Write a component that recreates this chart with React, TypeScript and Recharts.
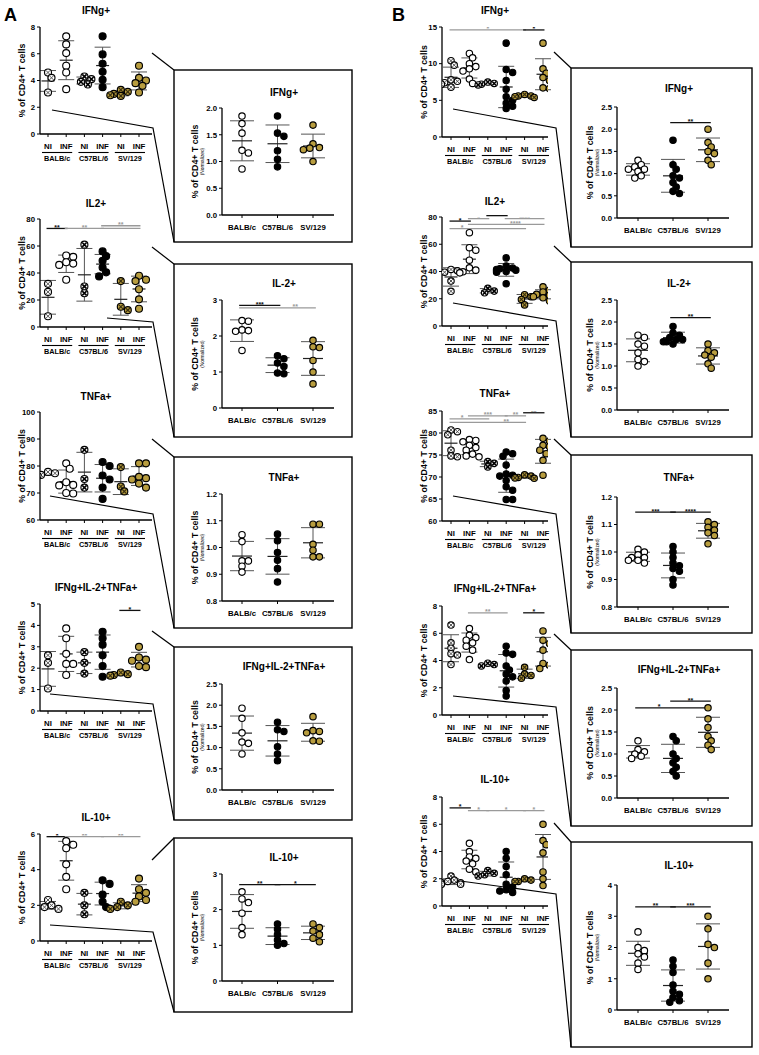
import React from 'react';
import { ScatterChart, Scatter, XAxis, YAxis, ErrorBar, ReferenceLine } from 'recharts';

// ---------- labels ----------
const GROUPS = ['NI', 'INF', 'NI', 'INF', 'NI', 'INF'];
const STRAINS = ['BALB/c', 'C57BL/6', 'SV/129'];
const SMALL_KINDS = ['niB', 'open', 'niC', 'black', 'niS', 'gold'];
const BOX_KINDS = ['open', 'black', 'gold'];

// ---------- A: raw % of CD4+ T cells ----------
const A_IFNG = [[4.6, 4.2, 3.1], [7.3, 6.7, 6.05, 5.1, 4.6, 3.35], [4.3, 4.1, 3.9, 3.7], [7.3, 5.95, 5.25, 4.65, 4.05, 3.5], [3.3, 3.15, 3.0, 2.9, 2.85], [5.1, 4.2, 4.0, 3.8, 3.6, 3.1]];
const A_IL2 = [[32, 26, 8], [53, 52, 48, 47, 46, 35], [61, 30, 25], [56, 52.5, 49, 44, 40.5, 37.5], [34, 15, 12.5], [38, 35, 34, 28, 20.5, 13.5]];
const A_TNF = [[77.8, 77.3, 76.7, 76.5], [81, 79, 74, 73, 72.8, 70, 69.8], [86, 75.2, 72], [81.5, 80, 76.5, 75, 72, 67.8], [79.6, 72.4, 70.6], [81, 81, 76, 75.5, 75, 73.5, 72]];
const A_TRIPLE = [[2.6, 2.25, 1.05], [3.86, 3.4, 2.67, 2.2, 2.2, 1.68], [2.75, 2.25, 1.75], [3.7, 3.4, 3.1, 2.6, 2.1, 1.6], [1.8, 1.72, 1.68, 1.65], [3.0, 2.5, 2.4, 2.35, 2.1, 2.05]];
const A_IL10 = [[2.3, 2.0, 1.9, 1.8], [5.6, 5.4, 5.2, 4.3, 3.6, 2.9], [2.7, 2.0, 1.5], [3.4, 3.2, 2.6, 2.2, 1.9], [2.2, 2.0, 1.9, 1.8], [3.5, 2.9, 2.7, 2.5, 2.3, 2.2]];

// ---------- A: normalized ----------
const AN_IFNG = [[1.85, 1.71, 1.53, 1.21, 1.16, 0.86], [1.85, 1.53, 1.47, 1.2, 1.04, 0.9], [1.68, 1.33, 1.26, 1.22, 1.25, 1.0]];
const AN_IL2 = [[2.43, 2.41, 2.17, 2.15, 2.13, 1.6], [1.45, 1.37, 1.25, 1.15, 0.97, 0.95], [1.88, 1.7, 1.68, 1.32, 1.0, 0.67]];
const AN_TNF = [[1.048, 1.022, 0.95, 0.95, 0.93, 0.908], [1.05, 1.025, 0.981, 0.952, 0.921, 0.871], [1.087, 1.087, 1.012, 0.99, 0.965, 0.965]];
const AN_TRIPLE = [[1.93, 1.69, 1.35, 1.13, 1.1, 0.85], [1.6, 1.42, 1.38, 1.02, 0.85, 0.69], [1.73, 1.4, 1.38, 1.35, 1.16, 1.15]];
const AN_IL10 = [[2.5, 2.3, 2.2, 1.9, 1.5, 1.3], [1.6, 1.45, 1.3, 1.15, 1.05, 1.0], [1.6, 1.5, 1.4, 1.3, 1.2, 1.1]];

// ---------- B: raw ----------
const B_IFNG = [[10.4, 9.8, 7.8, 7.6, 7.4, 7.2, 6.8], [11.4, 10.8, 10.0, 9.6, 9.3, 9.0, 7.9, 7.3], [7.5, 7.3, 7.2, 7.1], [12.8, 9.2, 8.8, 7.7, 6.5, 5.5, 5.0, 4.6, 4.2, 3.9], [5.8, 5.6, 5.6, 5.5, 5.4], [12.8, 9.3, 8.7, 8.1, 7.7, 6.7, 6.6]];
const B_IL2 = [[41.5, 40.5, 39.5, 33, 25.5], [68.5, 57.5, 55.6, 48.3, 42.7, 41, 39.8, 39], [27.6, 25.6, 24.4], [50, 44, 42.5, 42, 41.5, 41, 40.5, 40, 39.5, 31], [23, 21.5, 19.5, 15.5], [28.8, 26.3, 25, 23.2, 22.5, 21.5, 20.7, 18.3]];
const B_TNF = [[80.7, 80.3, 79.6, 76.1, 74.8, 74.6], [78.5, 78.3, 78, 77.2, 76.7, 76.1, 75.2, 74.8, 74.6], [73.5, 73.1, 72.3], [75.7, 75.3, 74.7, 72.7, 70.7, 70.4, 70.2, 69.2, 67.8, 67.0, 64.9, 64.9], [70.5, 70.2, 69.9, 69.8, 69.7], [78.8, 78.2, 77.2, 76.9, 76.1, 75.3, 73.8, 70.4]];
const B_TRIPLE = [[6.6, 5.3, 4.9, 4.5, 4.4, 3.7], [6.34, 5.85, 5.68, 5.49, 5.3, 5.05, 4.76, 4.07], [3.8, 3.7, 3.6], [5.05, 4.55, 4.45, 3.6, 3.3, 3.0, 2.8, 2.5, 1.8, 1.4], [3.5, 3.0, 2.9, 2.7], [6.17, 5.49, 5.24, 4.76, 3.78, 3.66, 3.41]];
const B_IL10 = [[2.2, 1.9, 1.8, 1.7, 1.7, 1.6, 1.6], [4.6, 4.0, 3.6, 3.5, 3.3, 3.1, 2.7, 2.5], [2.6, 2.4, 2.3, 2.2], [4.0, 3.5, 2.9, 2.3, 1.6, 1.4, 1.2, 1.1, 1.0], [2.0, 1.9, 1.8, 1.8], [6.0, 4.8, 4.5, 3.9, 2.5, 2.0, 1.5]];

// ---------- B: normalized ----------
const BN_IFNG = [[1.3, 1.2, 1.15, 1.1, 1.1, 1.05, 0.95, 0.9], [1.75, 1.2, 1.1, 0.95, 0.9, 0.8, 0.7, 0.6, 0.55], [2.0, 1.7, 1.6, 1.5, 1.45, 1.3, 1.2]];
const BN_IL2 = [[1.7, 1.65, 1.5, 1.45, 1.3, 1.15, 1.1, 1.0], [1.9, 1.75, 1.7, 1.65, 1.6, 1.6, 1.55, 1.55, 1.5], [1.5, 1.35, 1.3, 1.25, 1.2, 1.05, 0.95]];
const BN_TNF = [[1.01, 1.0, 0.99, 0.98, 0.98, 0.97, 0.97, 0.96], [1.02, 1.0, 0.98, 0.96, 0.95, 0.94, 0.93, 0.9, 0.88], [1.11, 1.1, 1.09, 1.08, 1.07, 1.06, 1.03]];
const BN_TRIPLE = [[1.3, 1.1, 1.05, 1.0, 0.95, 0.9], [1.4, 1.3, 1.0, 0.9, 0.8, 0.7, 0.6, 0.5], [2.05, 1.8, 1.6, 1.4, 1.3, 1.2, 1.1]];
const BN_IL10 = [[2.5, 2.0, 1.9, 1.8, 1.7, 1.5, 1.3], [1.6, 1.4, 1.2, 0.8, 0.6, 0.5, 0.4, 0.3, 0.25], [3.0, 2.6, 2.1, 2.0, 1.5, 1.0]];

// ---------- significance bars: [from, to, y, label, dark(1) / grey(0), optional label x] ----------
type Sig = [number, number, number, string, number, number?];
const A_IL2_SIG: Sig[] = [[1, 2, 73, '**', 1], [2, 4, 73, '**', 0], [4, 6, 73, '', 0], [4, 6, 75, '**', 0, 5]];
const A_TRIPLE_SIG: Sig[] = [[5, 6, 4.7, '*', 1]];
const A_IL10_SIG: Sig[] = [[1, 2, 5.85, '*', 1], [2, 4, 5.85, '**', 0], [4, 6, 5.85, '**', 0]];
const AN_IL2_SIG: Sig[] = [[1, 2, 2.85, '***', 1], [1, 3, 2.78, '**', 0.4, 2.5]];
const AN_IL10_SIG: Sig[] = [[1, 2, 2.7, '**', 1], [2, 3, 2.7, '*', 1]];
const B_IFNG_SIG: Sig[] = [[1, 5, 14.6, '*', 0], [5, 6, 14.6, '*', 1]];
const B_IL2_SIG: Sig[] = [[1, 2, 77, '*', 1], [2, 3, 78.8, '*', 0], [3, 4, 81, '***', 1], [4, 6, 78.8, '****', 0, 5], [2, 6, 74.6, '****', 0, 4.5], [1, 5, 71.5, '*', 0, 1.6]];
const B_TNF_SIG: Sig[] = [[1, 3, 83.2, '*', 0, 1.6], [2, 4, 83.9, '***', 0], [1, 5, 82.4, '**', 0, 4], [4, 5, 83.9, '**', 0], [5, 6, 84.6, '**', 1]];
const B_TRIPLE_SIG: Sig[] = [[2, 4, 7.5, '**', 0], [5, 6, 7.5, '*', 1]];
const B_IL10_SIG: Sig[] = [[1, 2, 7.2, '*', 1], [2, 3, 7.0, '*', 0], [3, 5, 7.0, '*', 0], [5, 6, 7.0, '*', 0]];
const BN_IFNG_SIG: Sig[] = [[2, 3, 2.15, '**', 1]];
const BN_IL2_SIG: Sig[] = [[2, 3, 2.1, '**', 1]];
const BN_TNF_SIG: Sig[] = [[1, 2, 1.145, '***', 1], [2, 3, 1.145, '****', 1]];
const BN_TRIPLE_SIG: Sig[] = [[1, 3, 2.05, '*', 1, 1.6], [2, 3, 2.2, '**', 1]];
const BN_IL10_SIG: Sig[] = [[1, 2, 3.3, '**', 1], [2, 3, 3.3, '***', 1]];

const GOLD = '#b89d3f';
const FONT = '"Liberation Sans", Arial, sans-serif';

type Frame = {
  axisX: number; axisEnd: number; top: number; bottom: number; cats: number[];
  domain: [number, number]; ticks: number[]; dec: number; titleY: number; r: number;
};

type PanelDef = { title: string; values: number[][]; sig: Sig[]; f: Frame; small: boolean };

const smallA = (top: number, bottom: number, titleY: number, domain: [number, number], ticks: number[]): Frame => ({
  axisX: 40, axisEnd: 152, top, bottom, cats: [48, 67, 85, 103, 121, 139], domain, ticks, dec: 0, titleY, r: 3.5,
});
const smallB = (top: number, bottom: number, titleY: number, domain: [number, number], ticks: number[]): Frame => ({
  axisX: 442, axisEnd: 548, top, bottom, cats: [451, 469, 488, 506, 524, 543], domain, ticks, dec: 0, titleY, r: 3.2,
});
const boxA = (top: number, bottom: number, titleY: number, domain: [number, number], ticks: number[], dec: number): Frame => ({
  axisX: 222, axisEnd: 334, top, bottom, cats: [242, 278, 313], domain, ticks, dec, titleY, r: 3.2,
});
const boxB = (top: number, bottom: number, titleY: number, domain: [number, number], ticks: number[], dec: number): Frame => ({
  axisX: 617, axisEnd: 729, top, bottom, cats: [638, 673, 708], domain, ticks, dec, titleY, r: 3.2,
});

const T5 = [0, 0.5, 1, 1.5, 2, 2.5];
const PANELS: PanelDef[] = [
  { title: 'IFNg+', values: A_IFNG, sig: [], small: true, f: smallA(27, 134, 14, [0, 8], [0, 2, 4, 6, 8]) },
  { title: 'IL2+', values: A_IL2, sig: A_IL2_SIG, small: true, f: smallA(219, 327, 207, [0, 80], [0, 20, 40, 60, 80]) },
  { title: 'TNFa+', values: A_TNF, sig: [], small: true, f: smallA(412, 520, 400, [60, 100], [60, 70, 80, 90, 100]) },
  { title: 'IFNg+IL-2+TNFa+', values: A_TRIPLE, sig: A_TRIPLE_SIG, small: true, f: smallA(604, 711, 591, [0, 5], [0, 1, 2, 3, 4, 5]) },
  { title: 'IL-10+', values: A_IL10, sig: A_IL10_SIG, small: true, f: smallA(834, 941, 821, [0, 6], [0, 2, 4, 6]) },
  { title: 'IFNg+', values: AN_IFNG, sig: [], small: false, f: boxA(108, 215, 96, [0, 2], [0, 0.5, 1, 1.5, 2], 1) },
  { title: 'IL-2+', values: AN_IL2, sig: AN_IL2_SIG, small: false, f: boxA(300, 408, 287, [0, 3], [0, 1, 2, 3], 0) },
  { title: 'TNFa+', values: AN_TNF, sig: [], small: false, f: boxA(494, 601, 481, [0.8, 1.2], [0.8, 0.9, 1, 1.1, 1.2], 1) },
  { title: 'IFNg+IL-2+TNFa+', values: AN_TRIPLE, sig: [], small: false, f: boxA(684, 790, 670, [0, 2.5], T5, 1) },
  { title: 'IL-10+', values: AN_IL10, sig: AN_IL10_SIG, small: false, f: boxA(874, 981, 861, [0, 3], [0, 1, 2, 3], 0) },
  { title: 'IFNg+', values: B_IFNG, sig: B_IFNG_SIG, small: true, f: smallB(27, 137, 14, [0, 15], [0, 5, 10, 15]) },
  { title: 'IL2+', values: B_IL2, sig: B_IL2_SIG, small: true, f: smallB(217, 326, 205, [0, 80], [0, 20, 40, 60, 80]) },
  { title: 'TNFa+', values: B_TNF, sig: B_TNF_SIG, small: true, f: smallB(411, 521, 397, [60, 85], [60, 65, 70, 75, 80, 85]) },
  { title: 'IFNg+IL-2+TNFa+', values: B_TRIPLE, sig: B_TRIPLE_SIG, small: true, f: smallB(606, 715, 592, [0, 8], [0, 2, 4, 6, 8]) },
  { title: 'IL-10+', values: B_IL10, sig: B_IL10_SIG, small: true, f: smallB(797, 906, 783, [0, 8], [0, 2, 4, 6, 8]) },
  { title: 'IFNg+', values: BN_IFNG, sig: BN_IFNG_SIG, small: false, f: boxB(107, 218, 92, [0, 2.5], T5, 1) },
  { title: 'IL-2+', values: BN_IL2, sig: BN_IL2_SIG, small: false, f: boxB(300, 410, 287, [0, 2.5], T5, 1) },
  { title: 'TNFa+', values: BN_TNF, sig: BN_TNF_SIG, small: false, f: boxB(497, 607, 481, [0.8, 1.2], [0.8, 0.9, 1, 1.1, 1.2], 1) },
  { title: 'IFNg+IL-2+TNFa+', values: BN_TRIPLE, sig: BN_TRIPLE_SIG, small: false, f: boxB(688, 798, 673, [0, 2.5], T5, 1) },
  { title: 'IL-10+', values: BN_IL10, sig: BN_IL10_SIG, small: false, f: boxB(885, 1010, 869, [0, 4], [0, 1, 2, 3, 4], 0) },
];

// boxes and zoom connectors (decoration only)
const BOXES = [
  [174, 70, 352, 242], [174, 264, 352, 437], [174, 457, 352, 628], [174, 647, 352, 820], [174, 838, 352, 1012],
  [571, 68, 752, 247], [571, 262, 752, 437], [571, 455, 752, 633], [571, 650, 752, 826], [571, 842, 752, 1047],
];
const CONNECTORS = [
  '152,53 174,70', '52,110 153,128 174,242',
  '152,247 174,264', '107,318 153,322 174,437',
  '152,439 174,457', '50,496 153,514 174,628',
  '152,631 174,647', '50,694 153,704 174,820',
  '152,860 174,838', '50,925 153,932 174,1012',
  '554,52 571,68', '453,109 556,128 571,247',
  '554,246 571,262', '453,303 556,321 571,437',
  '554,439 571,455', '453,496 556,514 571,633',
  '554,634 571,650', '453,696 556,707 571,826',
  '554,823 571,842', '453,880 556,894 571,1047',
];

function Marker(props: any) {
  const { cx, cy, payload } = props;
  if (cx == null || cy == null) return null;
  const k = payload.kind;
  const R = payload.r;
  const fill = k === 'black' ? '#000' : k === 'gold' || k === 'niS' ? GOLD : '#fff';
  const d = R * 0.62;
  const cross = `M${cx - d},${cy - d}L${cx + d},${cy + d}M${cx + d},${cy - d}L${cx - d},${cy + d}`;
  return (
    <g>
      <circle cx={cx} cy={cy} r={R} fill={fill} stroke="#000" strokeWidth={1.15} />
      {k === 'niB' && <path d={cross} stroke="#555" strokeWidth={1} />}
      {k === 'niC' && <path d={cross} stroke="#000" strokeWidth={1.6} />}
      {k === 'niS' && <path d={cross} stroke="#3a3010" strokeWidth={1.2} />}
    </g>
  );
}

// compact beeswarm in pixel space; clusters may overlap a little, as in the original
function swarm(vals: number[], f: Frame, catIdx: number, kind: string) {
  const R = f.r;
  const [d0, d1] = f.domain;
  const pxPerY = (f.bottom - f.top) / (d1 - d0);
  const n = f.cats.length;
  const s = (f.cats[n - 1] - f.cats[0]) / (n - 1);
  const placed: { px: number; py: number }[] = [];
  const out: any[] = [];
  const sorted = [...vals].sort((a, b) => b - a);
  const dia = R * 2;
  const tries = [0, 1, -1, 2, -2, 3, -3];
  sorted.forEach((v, j) => {
    const py = v * pxPerY;
    let chosen = tries[j % 3];
    let best = -1;
    for (const t of tries) {
      const px = t * dia * 0.5;
      const dmin = placed.reduce((m, p) => Math.min(m, Math.hypot(p.px - px, p.py - py)), 99);
      if (dmin >= dia * 0.8) { chosen = px; best = 1; break; }
      if (best < 0 && dmin > -best) { chosen = px; }
    }
    placed.push({ px: chosen, py });
    out.push({ x: catIdx + 1 + chosen / s, y: v, kind, r: R });
  });
  return out;
}

function stats(vals: number[]) {
  const m = vals.reduce((a, b) => a + b, 0) / vals.length;
  const sd = Math.sqrt(vals.reduce((a, b) => a + (b - m) ** 2, 0) / (vals.length - 1));
  return { m, sd };
}

function Panel({ p }: { p: PanelDef }) {
  const { f, small } = p;
  const YW = 28, MT = 14, MR = 6, XH = 36;
  const n = f.cats.length;
  const s = (f.cats[n - 1] - f.cats[0]) / (n - 1);
  const x0 = 1 - (f.cats[0] - f.axisX) / s;
  const x1 = n + (f.axisEnd - f.cats[n - 1]) / s;
  const width = YW + (f.axisEnd - f.axisX) + MR;
  const height = MT + (f.bottom - f.top) + XH;
  const kinds = small ? SMALL_KINDS : BOX_KINDS;
  const points = p.values.flatMap((v, i) => swarm(v, f, i, kinds[i]));
  const means = p.values.map((v, i) => { const st = stats(v); return { x: i + 1, y: st.m, e: st.sd }; });
  const stars = p.sig.filter((g) => g[3]).map((g) => ({ x: g[5] ?? (g[0] + g[1]) / 2, y: g[2], label: g[3], dark: g[4] }));
  const half = small ? 6.5 : 10;
  const cap = small ? 8 : 12;

  const tick = (props: any) => {
    const { x, y, payload } = props;
    const i = Math.round(payload.value);
    if (small) {
      return (
        <g fontFamily={FONT} fontWeight={700} fontSize={7.8} fill="#000">
          <text x={x} y={y + 10} textAnchor="middle">{GROUPS[i - 1]}</text>
          {i % 2 === 1 && (
            <>
              <line x1={x - 6} x2={x + s + 6} y1={y + 13.5} y2={y + 13.5} stroke="#000" strokeWidth={1.1} />
              <text x={x + s / 2} y={y + 22} textAnchor="middle" fontSize={7.3}>{STRAINS[(i - 1) / 2]}</text>
            </>
          )}
        </g>
      );
    }
    return (
      <text x={x} y={y + 9.5} textAnchor="middle" fontFamily={FONT} fontWeight={700} fontSize={7.8} fill="#000">
        {STRAINS[i - 1]}
      </text>
    );
  };

  return (
    <div style={{ position: 'absolute', left: f.axisX - YW, top: f.top - MT }}>
      <ScatterChart width={width} height={height} margin={{ top: MT, right: MR, bottom: 0, left: 0 }}>
        <XAxis
          type="number" dataKey="x" domain={[x0, x1]} ticks={f.cats.map((_, i) => i + 1)} interval={0}
          height={XH} tickSize={3} tick={tick} allowDataOverflow
          axisLine={{ stroke: '#000', strokeWidth: 1.3 }} tickLine={{ stroke: '#000', strokeWidth: 1 }}
        />
        <YAxis
          type="number" dataKey="y" domain={f.domain} ticks={f.ticks} interval={0} width={YW} tickSize={3}
          allowDataOverflow tickFormatter={(v: number) => v.toFixed(f.dec)}
          tick={{ fontSize: 7.8, fontWeight: 700, fill: '#000', fontFamily: FONT }}
          axisLine={{ stroke: '#000', strokeWidth: 1.3 }} tickLine={{ stroke: '#000', strokeWidth: 1 }}
        />
        {p.sig.map((g, i) => (
          <ReferenceLine
            key={i} ifOverflow="visible"
            segment={[{ x: g[0] - 0.08, y: g[2] }, { x: g[1] + 0.08, y: g[2] }]}
            stroke={g[4] === 1 ? '#111' : '#9a9a9a'} strokeWidth={1.3}
          />
        ))}
        <Scatter
          data={means} isAnimationActive={false}
          shape={(q: any) => (
            <line x1={q.cx - half} x2={q.cx + half} y1={q.cy} y2={q.cy} stroke="#222" strokeWidth={1.2} />
          )}
        >
          <ErrorBar dataKey="e" direction="y" width={cap} stroke="#555" strokeWidth={1} isAnimationActive={false} />
        </Scatter>
        <Scatter data={points} isAnimationActive={false} shape={Marker} />
        <Scatter
          data={stars} isAnimationActive={false}
          shape={(q: any) => (
            <text x={q.cx} y={q.cy + 1.5} textAnchor="middle" fontFamily={FONT} fontWeight={700} fontSize={7}
              fill={q.payload.dark === 1 ? '#111' : '#9a9a9a'}>{q.payload.label}</text>
          )}
        />
      </ScatterChart>
    </div>
  );
}

function Labels({ p }: { p: PanelDef }) {
  const { f, small } = p;
  const cx = (f.axisX + f.axisEnd) / 2 + (small ? 0 : 6);
  const my = (f.top + f.bottom) / 2;
  const lx = small ? f.axisX - 15 : f.axisX - 24;
  return (
    <g fontFamily={FONT} fontWeight={700} fill="#000">
      <text x={cx} y={f.titleY} textAnchor="middle" fontSize={10}>{p.title}</text>
      <text transform={`translate(${lx},${my}) rotate(-90)`} textAnchor="middle" fontSize={8.8}>% of CD4+ T cells</text>
      {!small && (
        <text transform={`translate(${lx + 6},${my}) rotate(-90)`} textAnchor="middle" fontSize={4.8} fontWeight={400}>(Normalized)</text>
      )}
    </g>
  );
}

export default function App() {
  return (
    <div style={{ position: 'absolute', left: 0, top: 0, width: 759, height: 1055, background: '#fff', overflow: 'hidden' }}>
      <svg width={759} height={1055} style={{ position: 'absolute', left: 0, top: 0 }}>
        {BOXES.map((b, i) => (
          <rect key={i} x={b[0]} y={b[1]} width={b[2] - b[0]} height={b[3] - b[1]} fill="none" stroke="#000" strokeWidth={1.4} />
        ))}
        {CONNECTORS.map((c, i) => (
          <polyline key={i} points={c} fill="none" stroke="#000" strokeWidth={1.2} />
        ))}
        <text x={4} y={21} fontFamily={FONT} fontWeight={700} fontSize={18}>A</text>
        <text x={392} y={21} fontFamily={FONT} fontWeight={700} fontSize={18}>B</text>
        {PANELS.map((p, i) => <Labels key={i} p={p} />)}
      </svg>
      {PANELS.map((p, i) => <Panel key={i} p={p} />)}
    </div>
  );
}
